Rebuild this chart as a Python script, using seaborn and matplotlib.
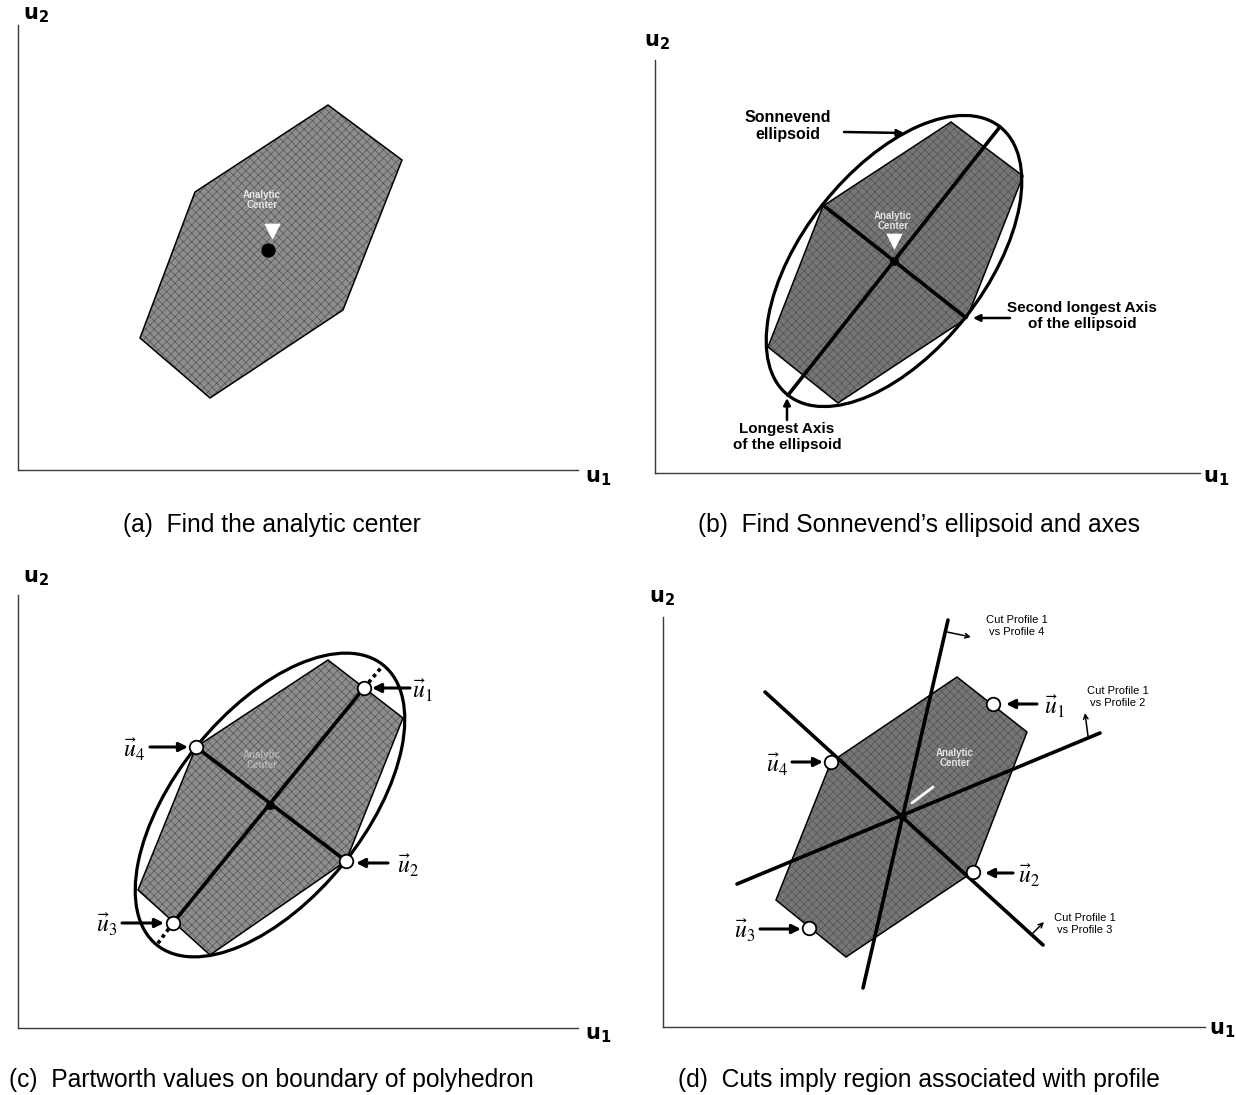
import numpy as np
import matplotlib
matplotlib.use("Agg")
import matplotlib.pyplot as plt
from matplotlib.patches import Ellipse
import seaborn as sns

sns.set_theme(style="white")
plt.rcParams["font.family"] = ["Liberation Sans", "DejaVu Sans"]
plt.rcParams["text.color"] = "black"
plt.rcParams["hatch.linewidth"] = 0.45

W, H = 1236, 1095

# ---------------- data (u1, u2 coordinates of each panel) ----------------
# (a) feasible polyhedron and its analytic center
poly_a_u1 = [310, 384, 325, 192, 122, 177]
poly_a_u2 = [365, 310, 160, 72, 132, 278]
center_a_u1, center_a_u2 = 250, 220

# (b) polyhedron, Sonnevend ellipsoid and its axes
poly_b_u1 = [296, 368, 312, 183, 113, 168]
poly_b_u2 = [351, 297, 155, 70, 126, 267]
center_b_u1, center_b_u2 = 239, 212
ell_b_major, ell_b_minor, ell_b_angle = 171, 91, 51.7

# (c) partworth values where the axes meet the polyhedron boundary
poly_c_u1 = [310, 385, 328, 192, 120, 178]
poly_c_u2 = [368, 310, 167, 73, 138, 281]
center_c_u1, center_c_u2 = 252, 223
ell_c_major, ell_c_minor, ell_c_angle = 180, 94, 51.0
pw_names = ["1", "2", "3", "4"]
pw_c_u1 = [346, 328, 155, 178]
pw_c_u2 = [340, 167, 105, 281]

# (d) cuts through the analytic center
poly_d_u1 = [294, 364, 310, 183, 113, 168]
poly_d_u2 = [350, 295, 155, 70, 127, 265]
center_d_u1, center_d_u2 = 239, 211
pw_d_u1 = [330, 310, 146, 168]
pw_d_u2 = [323, 155, 99, 265]
cut_names = ["Cut Profile 1\nvs Profile 4",
             "Cut Profile 1\nvs Profile 2",
             "Cut Profile 1\nvs Profile 3"]
cut_u1_from = [200, 74, 102]
cut_u2_from = [39, 143, 335]
cut_u1_to = [285, 437, 380]
cut_u2_to = [407, 294, 82]

captions = ["(a)  Find the analytic center",
            "(b)  Find Sonnevend\u2019s ellipsoid and axes",
            "(c)  Partworth values on boundary of polyhedron",
            "(d)  Cuts imply region associated with profile"]

# ---------------- helpers ----------------
fig = plt.figure(figsize=(W / 100, H / 100), dpi=100)


def make_panel(x0, y0, w, h):
    """Axes whose left/bottom spines are the u1/u2 axes; 1 unit = 1 pixel."""
    ax = fig.add_axes([x0 / W, 1 - y0 / H, w / W, h / H])
    for side in ("top", "right"):
        ax.spines[side].set_visible(False)
    for side in ("left", "bottom"):
        ax.spines[side].set_color("#3a3a3a")
        ax.spines[side].set_linewidth(1.0)
    ax.set_xticks([])
    ax.set_yticks([])
    ax.set_facecolor("none")
    ax._size = (w, h)
    return ax


def finish(ax, u2_xy, u1_xy):
    w, h = ax._size
    ax.set_xlim(0, w)
    ax.set_ylim(0, h)
    ax.set_xlabel("")
    ax.set_ylabel("")
    ax.text(*u2_xy, r"$\mathbf{u}_\mathbf{2}$", math_fontfamily="dejavusans",
            fontsize=15, ha="center", va="center")
    ax.text(*u1_xy, r"$\mathbf{u}_\mathbf{1}$", math_fontfamily="dejavusans",
            fontsize=15, ha="center", va="center")


def draw_poly(ax, xs, ys, face):
    ax.fill(xs, ys, facecolor=face, edgecolor="#505050", hatch="xxxx",
            linewidth=0, zorder=1)
    ax.fill(xs, ys, facecolor="none", edgecolor="black", linewidth=1.1, zorder=2)


def seg(ax, x0, y0, x1, y1, lw=2.6, ls="-", color="black", z=4):
    sns.lineplot(x=[x0, x1], y=[y0, y1], sort=False, estimator=None, ax=ax,
                 color=color, linewidth=lw, linestyle=ls, zorder=z, legend=False)


def arrow(ax, tail, head, lw=2.2, ms=13, style="-|>"):
    ax.annotate("", xy=head, xytext=tail,
                arrowprops=dict(arrowstyle=style, color="black", lw=lw,
                                mutation_scale=ms, shrinkA=0, shrinkB=0),
                zorder=6)


def center_tag(ax, x, y, size=7, alpha=0.8):
    ax.text(x, y, "Analytic\nCenter", color="white", fontsize=size,
            fontweight="bold", ha="center", va="center", alpha=alpha,
            linespacing=1.0, zorder=3)


def vec_label(ax, x, y, k, ha):
    ax.text(x, y, r"$\vec{u}_{%s}$" % k, math_fontfamily="stix", fontsize=17,
            ha=ha, va="center", zorder=7)


def points(ax, xs, ys):
    sns.scatterplot(x=xs, y=ys, ax=ax, s=95, color="white", edgecolor="black",
                    linewidth=1.3, zorder=8, legend=False)


def axis_end(cx, cy, a, angle_deg, sign):
    t = np.deg2rad(angle_deg)
    return cx + sign * a * np.cos(t), cy + sign * a * np.sin(t)


# ---------------- (a) ----------------
ax = make_panel(18, 470, 560, 445)
draw_poly(ax, poly_a_u1, poly_a_u2, "#8e8e8e")
center_tag(ax, center_a_u1 - 6, center_a_u2 + 50)
sns.scatterplot(x=[center_a_u1 + 4], y=[center_a_u2 + 19], ax=ax, marker="v",
                s=110, color="white", edgecolor="white", zorder=3, legend=False)
sns.scatterplot(x=[center_a_u1], y=[center_a_u2], ax=ax, s=90, color="black",
                edgecolor="black", zorder=5, legend=False)
finish(ax, (18, 455), (580, -8))

# ---------------- (b) ----------------
ax = make_panel(655, 473, 545, 413)
draw_poly(ax, poly_b_u1, poly_b_u2, "#767676")
center_tag(ax, center_b_u1 - 1, center_b_u2 + 40)
sns.scatterplot(x=[center_b_u1], y=[center_b_u2 + 20], ax=ax, marker="v",
                s=110, color="white", edgecolor="white", zorder=3, legend=False)
ax.add_patch(Ellipse((center_b_u1, center_b_u2), 2 * ell_b_major, 2 * ell_b_minor,
                     angle=ell_b_angle, fill=False, lw=2.3, ec="black", zorder=4))
p1 = axis_end(center_b_u1, center_b_u2, ell_b_major, ell_b_angle, 1)
p2 = axis_end(center_b_u1, center_b_u2, ell_b_major, ell_b_angle, -1)
seg(ax, p2[0], p2[1], p1[0], p1[1])
q1 = axis_end(center_b_u1, center_b_u2, ell_b_minor, ell_b_angle - 90, 1)
q2 = axis_end(center_b_u1, center_b_u2, ell_b_minor, ell_b_angle - 90, -1)
seg(ax, q2[0], q2[1], q1[0], q1[1])
sns.scatterplot(x=[center_b_u1], y=[center_b_u2], ax=ax, s=35, color="black",
                edgecolor="black", zorder=5, legend=False)
ax.text(133, 347, "Sonnevend\nellipsoid", fontsize=11.5, fontweight="bold",
        ha="center", va="center", linespacing=1.2)
arrow(ax, (189, 341), (249, 340), lw=1.8, ms=10)
ax.text(427, 157, "Second longest Axis\nof the ellipsoid", fontsize=11,
        fontweight="bold", ha="center", va="center", linespacing=1.2)
arrow(ax, (355, 155), (318, 155), lw=1.8, ms=10)
ax.text(132, 36, "Longest Axis\nof the ellipsoid", fontsize=11,
        fontweight="bold", ha="center", va="center", linespacing=1.2)
arrow(ax, (132, 53), (132, 75), lw=1.8, ms=10)
finish(ax, (2, 431), (561, -5))

# ---------------- (c) ----------------
ax = make_panel(18, 1028, 560, 433)
draw_poly(ax, poly_c_u1, poly_c_u2, "#8e8e8e")
center_tag(ax, center_c_u1 - 8, center_c_u2 + 45, alpha=0.4)
ax.add_patch(Ellipse((center_c_u1, center_c_u2), 2 * ell_c_major, 2 * ell_c_minor,
                     angle=ell_c_angle, fill=False, lw=2.3, ec="black", zorder=4))
seg(ax, pw_c_u1[2], pw_c_u2[2], pw_c_u1[0], pw_c_u2[0])
seg(ax, pw_c_u1[3], pw_c_u2[3], pw_c_u1[1], pw_c_u2[1])
e1 = axis_end(center_c_u1, center_c_u2, ell_c_major, ell_c_angle, 1)
e2 = axis_end(center_c_u1, center_c_u2, ell_c_major, ell_c_angle, -1)
seg(ax, pw_c_u1[0], pw_c_u2[0], e1[0], e1[1], lw=2.6, ls=(0, (1, 1)))
seg(ax, pw_c_u1[2], pw_c_u2[2], e2[0], e2[1], lw=2.6, ls=(0, (1, 1)))
sns.scatterplot(x=[center_c_u1], y=[center_c_u2], ax=ax, s=35, color="black",
                edgecolor="black", zorder=5, legend=False)
points(ax, pw_c_u1, pw_c_u2)
# arrows and labels for u1, u2, u3, u4
arrow(ax, (392, 340), (354, 340))
vec_label(ax, 394, 338, pw_names[0], "left")
arrow(ax, (370, 165), (338, 165))
vec_label(ax, 379, 163, pw_names[1], "left")
arrow(ax, (104, 105), (146, 105))
vec_label(ax, 99, 104, pw_names[2], "right")
arrow(ax, (132, 281), (170, 281))
vec_label(ax, 127, 279, pw_names[3], "right")
finish(ax, (18, 450), (580, -7))

# ---------------- (d) ----------------
ax = make_panel(663, 1027, 542, 410)
draw_poly(ax, poly_d_u1, poly_d_u2, "#767676")
center_tag(ax, 292, 269)
seg(ax, 270, 240, 249, 224, lw=2.0, color="white", z=3)
for i in range(3):
    seg(ax, cut_u1_from[i], cut_u2_from[i], cut_u1_to[i], cut_u2_to[i])
sns.scatterplot(x=[center_d_u1], y=[center_d_u2], ax=ax, s=30, color="black",
                edgecolor="black", zorder=5, legend=False)
# normals of the cutting planes
arrow(ax, (284, 395), (308, 390), lw=1.1, ms=8, style="->")
arrow(ax, (425, 291), (422, 314), lw=1.1, ms=8, style="->")
arrow(ax, (370, 94), (381, 105), lw=1.1, ms=8, style="->")
cut_label_xy = [(354, 401), (455, 330), (422, 103)]
for name, (lx, ly) in zip(cut_names, cut_label_xy):
    ax.text(lx, ly, name, fontsize=8, ha="center", va="center",
            linespacing=1.15)
points(ax, pw_d_u1, pw_d_u2)
arrow(ax, (374, 323), (343, 323))
vec_label(ax, 381, 321, pw_names[0], "left")
arrow(ax, (350, 154), (322, 154))
vec_label(ax, 355, 152, pw_names[1], "left")
arrow(ax, (97, 98), (138, 98))
vec_label(ax, 92, 97, pw_names[2], "right")
arrow(ax, (129, 265), (160, 265))
vec_label(ax, 125, 263, pw_names[3], "right")
finish(ax, (-1, 429), (559, -3))

# ---------------- captions ----------------
caption_xy = [(272, 525), (919, 525), (271, 1080), (919, 1080)]
for text, (cx, cy) in zip(captions, caption_xy):
    fig.text(cx / W, 1 - cy / H, text, fontsize=17.7, ha="center", va="center")

fig.savefig("out.png", dpi=100, facecolor="white")
